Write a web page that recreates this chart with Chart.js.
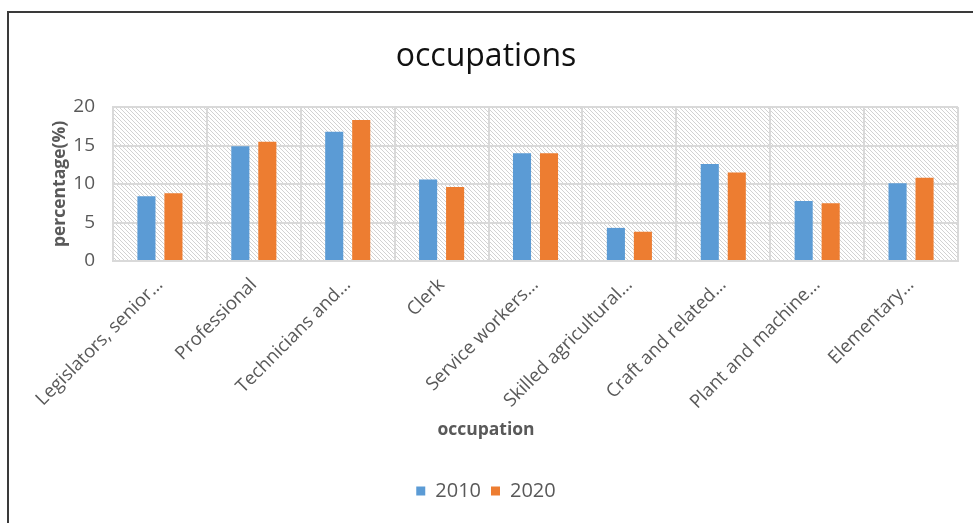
<!DOCTYPE html>
<html><head><meta charset="utf-8">
<script src="https://cdn.jsdelivr.net/npm/chart.js@4"></script>
<style>html,body{margin:0;padding:0;background:#fff;}#wrap{position:relative;width:973px;height:523px;}</style>
</head><body><div id="wrap"><canvas id="c" width="973" height="523"></canvas></div>
<script>
const categories = ["Legislators, senior…","Professional","Technicians and…","Clerk","Service workers…","Skilled agricultural…","Craft and related…","Plant and machine…","Elementary…"];
const seriesNames = ["2010","2020"];
const values2010 = [8.4, 14.9, 16.8, 10.6, 14.0, 4.3, 12.6, 7.8, 10.1];
const values2020 = [8.8, 15.5, 18.3, 9.6, 14.0, 3.8, 11.5, 7.5, 10.8];
const yTicks = [0, 5, 10, 15, 20];
const chartTitle = "occupations";
const xTitle = "occupation";
const yTitle = "percentage(%)";

const FONT = "'Open Sans', 'Noto Sans', sans-serif";
const GRAY = "#595959";

function makePattern(ctx){
  const p = document.createElement('canvas');
  const s = 4; p.width = s; p.height = s;
  const g = p.getContext('2d');
  g.fillStyle = '#ffffff'; g.fillRect(0,0,s,s);
  g.strokeStyle = '#d2d2d2'; g.lineWidth = 1;
  g.beginPath();
  g.moveTo(-1,-1); g.lineTo(s+1,s+1);
  g.moveTo(-1,s-1); g.lineTo(1,s+1);
  g.moveTo(s-1,-1); g.lineTo(s+1,1);
  g.stroke();
  return ctx.createPattern(p,'repeat');
}

const bgPlugin = {
  id: 'bg',
  beforeDraw(chart){
    const {ctx, chartArea: a} = chart;
    ctx.save();
    ctx.fillStyle = '#fff';
    ctx.fillRect(0,0,chart.width,chart.height);
    ctx.fillStyle = makePattern(ctx);
    ctx.fillRect(a.left, a.top, a.right-a.left, a.bottom-a.top);
    ctx.strokeStyle = '#3a3a3a'; ctx.lineWidth = 2;
    ctx.beginPath();
    ctx.moveTo(8, chart.height+2); ctx.lineTo(8, 12); ctx.lineTo(chart.width+2, 12);
    ctx.stroke();
    ctx.restore();
  }
};

new Chart(document.getElementById('c'), {
  type: 'bar',
  data: {
    labels: categories,
    datasets: [
      {label: seriesNames[0], data: values2010, backgroundColor: '#5B9BD5', categoryPercentage: 0.575, barPercentage: 0.67},
      {label: seriesNames[1], data: values2020, backgroundColor: '#ED7D31', categoryPercentage: 0.575, barPercentage: 0.67}
    ]
  },
  options: {
    responsive: false,
    animation: false,
    devicePixelRatio: 1,
    layout: {padding: {left: 14, right: 15, top: 14, bottom: 12}},
    plugins: {
      title: {display: true, text: chartTitle, color: '#111', font: {family: FONT, size: 32, weight: 'normal', lineHeight: 1.2}, padding: {top: 23.8, bottom: 30.8}},
      subtitle: {display: true, text: xTitle, position: 'bottom', weight: 500, color: GRAY, font: {family: FONT, size: 17.5, weight: 'bold', lineHeight: 1.2}, padding: {top: 9, bottom: 30}},
      legend: {position: 'bottom', weight: 1000, labels: {color: GRAY, font: {family: FONT, size: 20}, boxWidth: 9, boxHeight: 9, padding: 10}},
      tooltip: {enabled: false}
    },
    scales: {
      x: {
        offset: true,
        grid: {color: '#d9d9d9', lineWidth: 2, drawTicks: false, offset: true},
        border: {color: '#d9d9d9', width: 2},
        ticks: {color: GRAY, font: {family: FONT, size: 18.5}, minRotation: 45, maxRotation: 45, padding: 13, autoSkip: false},
        afterFit(scale){ scale.height = 150; }
      },
      y: {
        min: 0, max: 20,
        afterBuildTicks(scale){ scale.ticks = yTicks.map(v => ({value: v})); },
        grid: {color: '#d9d9d9', lineWidth: 2, drawTicks: false},
        border: {color: '#d9d9d9', width: 2},
        ticks: {color: GRAY, font: {family: FONT, size: 19}, padding: 18},
        title: {display: true, text: yTitle, color: GRAY, font: {family: FONT, size: 17.5, weight: 'bold', lineHeight: 1.2}, padding: {top: 35.5, bottom: 0}},
        afterFit(scale){ scale.width = 99; }
      }
    }
  },
  plugins: [bgPlugin]
});
</script></body></html>
